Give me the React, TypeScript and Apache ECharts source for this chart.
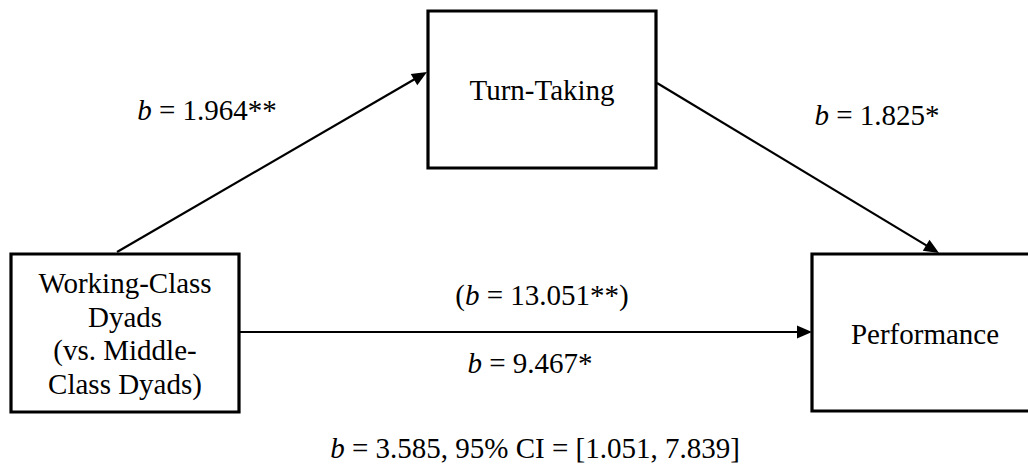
import React, { useEffect, useRef } from "react";
import * as echarts from "echarts";

// Diagram content
const nodeNames = ["Working-Class Dyads (vs. Middle-Class Dyads)", "Turn-Taking", "Performance"];
const predictorLines = ["Working-Class", "Dyads", "(vs. Middle-", "Class Dyads)"];
const pathA = ["1.964", "**"];
const pathB = ["1.825", "*"];
const pathCTotal = ["13.051", "**"];
const pathCDirect = ["9.467", "*"];
const indirectEffect = ["3.585", "1.051", "7.839"];

// Layout (positions / sizes only)
const L = {
  boxX: { x: 11, y: 254, w: 228, h: 158 },
  boxM: { x: 428, y: 11, w: 228, h: 157 },
  boxY: { x: 812, y: 254, w: 228, h: 157 },
  a: { from: [117, 252], to: [427, 72] },
  b: { from: [657, 83], to: [939, 253] },
  c: { from: [240, 332], to: [812, 332] },
};

const FONT = "Liberation Serif";
const FS = 29;

function arrowHead(from: number[], to: number[], len = 15, half = 6.5) {
  const dx = to[0] - from[0];
  const dy = to[1] - from[1];
  const d = Math.hypot(dx, dy);
  const ux = dx / d, uy = dy / d;
  const bx = to[0] - ux * len, by = to[1] - uy * len;
  return [
    [to[0], to[1]],
    [bx - uy * half, by + ux * half],
    [bx + uy * half, by - ux * half],
  ];
}

function arrow(from: number[], to: number[]) {
  const dx = to[0] - from[0];
  const dy = to[1] - from[1];
  const d = Math.hypot(dx, dy);
  const end = [to[0] - (dx / d) * 10, to[1] - (dy / d) * 10];
  return [
    {
      type: "line",
      shape: { x1: from[0], y1: from[1], x2: end[0], y2: end[1] },
      style: { stroke: "#000", lineWidth: 2.2 },
      silent: true,
    },
    {
      type: "polygon",
      shape: { points: arrowHead(from, to) },
      style: { fill: "#000" },
      silent: true,
    },
  ];
}

function box(b: { x: number; y: number; w: number; h: number }) {
  return {
    type: "rect",
    shape: { x: b.x, y: b.y, width: b.w, height: b.h },
    style: { fill: "#fff", stroke: "#000", lineWidth: 3.2 },
    silent: true,
  };
}

const rich = {
  i: { fontFamily: FONT, fontSize: FS, fontStyle: "italic", fill: "#000" },
  n: { fontFamily: FONT, fontSize: FS, fill: "#000" },
};

function label(x: number, y: number, text: string) {
  return {
    type: "text",
    x,
    y,
    style: {
      text,
      rich,
      fontFamily: FONT,
      fontSize: FS,
      fill: "#000",
      align: "center",
      verticalAlign: "middle",
    },
    silent: true,
  };
}

function bLabel(x: number, y: number, vals: string[], paren = false) {
  const core = `{i|b}{n| = ${vals[0]}${vals[1]}}`;
  const t = paren ? `{n|(}${core}{n|)}` : core;
  return label(x, y, t);
}

export default function App() {
  const ref = useRef<HTMLDivElement>(null);
  useEffect(() => {
    if (!ref.current) return;
    const chart = echarts.init(ref.current, undefined, { renderer: "svg" });
    const elements: any[] = [
      ...arrow(L.a.from, L.a.to),
      ...arrow(L.b.from, L.b.to),
      ...arrow(L.c.from, L.c.to),
      box(L.boxX),
      box(L.boxM),
      box(L.boxY),
      ...predictorLines.map((t, i) => label(125, 283 + i * 33.7, `{n|${t}}`)),
      label(542, 90, `{n|${nodeNames[1]}}`),
      label(925, 334, `{n|${nodeNames[2]}}`),
      bLabel(207, 110, pathA),
      bLabel(877, 115, pathB),
      bLabel(542, 295, pathCTotal, true),
      bLabel(530, 363, pathCDirect),
      label(
        535,
        448,
        `{i|b}{n| = ${indirectEffect[0]}, 95% CI = [${indirectEffect[1]}, ${indirectEffect[2]}]}`
      ),
    ];
    chart.setOption({
      animation: false,
      backgroundColor: "#fff",
      graphic: { elements },
    });
    return () => chart.dispose();
  }, []);
  return (
    <div
      ref={ref}
      style={{ position: "absolute", left: 0, top: 0, width: 1028, height: 465 }}
    />
  );
}
